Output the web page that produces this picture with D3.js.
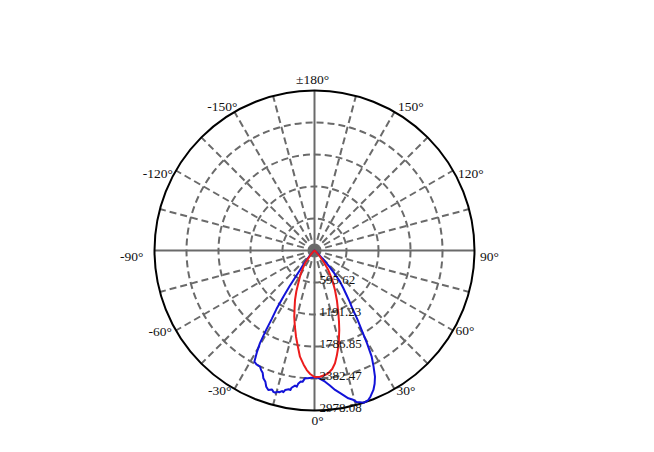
<!DOCTYPE html>
<html>
<head>
<meta charset="utf-8">
<script src="https://cdn.jsdelivr.net/npm/d3@7"></script>
<style>
  html, body { margin: 0; padding: 0; background: #fff; }
  svg { display: block; }
</style>
</head>
<body>
<svg id="chart" width="654" height="452"></svg>
<script>
// ---- data ----
const ringValues = [595.62, 1191.23, 1786.85, 2382.47, 2978.08];
const ringLabels = ["595.62", "1191.23", "1786.85", "2382.47", "2978.08"];
const angleTicks = [-150, -120, -90, -60, -30, 0, 30, 60, 90, 120, 150, 180];
const angleTickLabels = ["-150°", "-120°", "-90°", "-60°", "-30°", "0°", "30°", "60°", "90°", "120°", "150°", "±180°"];

const blueAngles = [-180, -90, -60, -48, -42, -39, -36.6, -35, -34, -33, -32, -31.3, -30.5, -29.5, -28.4, -27, -25.1, -24, -23, -21.8, -20.5, -19.5, -18.3, -17, -16.2, -15.5, -14.6, -14, -13, -12.4, -11.9, -10.5, -9.8, -9.5, -8.2, -7.4, -7, -6, -5.2, -4.3, -3, -1.5, 0, 1, 2.5, 4.6, 6.5, 8.4, 10.5, 12.9, 14.5, 15.6, 16.6, 18, 19.8, 21, 22.9, 24.3, 25.6, 27, 28.3, 29.5, 30.7, 32, 32.9, 34.5, 36, 37.5, 39.3, 41, 42.5, 43.6, 45, 47, 50, 60, 90, 180];
const blueValues = [0, 0, 0, 30, 150, 300, 452, 800, 1037, 1300, 1500, 1750, 2000, 2180, 2353, 2380, 2389, 2440, 2470, 2563, 2610, 2690, 2736, 2705, 2740, 2747, 2715, 2720, 2685, 2700, 2654, 2625, 2635, 2590, 2540, 2555, 2500, 2450, 2455, 2386, 2380, 2368, 2362, 2360, 2390, 2450, 2530, 2624, 2710, 2822, 2870, 2930, 2945, 2978.08, 2958, 2910, 2818, 2720, 2605, 2420, 2245, 1990, 1721, 1500, 1320, 1150, 1000, 880, 750, 560, 420, 329, 200, 90, 30, 0, 0, 0];

const redAngles = [-180, -90, -60, -48, -42, -38, -36.6, -32, -29, -26.3, -24, -21.5, -19, -17, -14.5, -12.1, -10, -7.8, -5.5, -3.7, -2, 0, 2.5, 4.5, 6.4, 8.5, 10.3, 12, 13.9, 15.5, 17.3, 19, 20.8, 24, 27.4, 31, 35.3, 38, 41.6, 45, 50, 60, 90, 180];
const redValues = [0, 0, 0, 20, 100, 220, 297, 450, 560, 681, 830, 990, 1140, 1288, 1460, 1641, 1800, 1995, 2130, 2230, 2300, 2354, 2351, 2330, 2300, 2230, 2134, 2000, 1845, 1700, 1550, 1400, 1251, 1030, 828, 640, 445, 300, 155, 60, 15, 0, 0, 0];

// ---- layout ----
const cx = 314.5, cy = 250.5, R = 160;
const svg = d3.select("#chart");
const g = svg.append("g").attr("transform", `translate(${cx},${cy})`);
const rScale = d3.scaleLinear().domain([0, d3.max(ringValues)]).range([0, R]);
const toRad = d => d * Math.PI / 180;
// 0° points down, positive angles to the right
const px = (deg, r) => r * Math.sin(toRad(deg));
const py = (deg, r) => r * Math.cos(toRad(deg));

const gridColor = "#6a6a6a";

// spokes every 15°
const spokes = d3.range(0, 360, 15);
g.selectAll("line.spoke").data(spokes).join("line")
  .attr("class", "spoke")
  .attr("x1", 0).attr("y1", 0)
  .attr("x2", d => px(d, R)).attr("y2", d => py(d, R))
  .attr("stroke", gridColor)
  .attr("stroke-width", 2)
  .attr("stroke-dasharray", d => d % 90 === 0 ? null : "7,4");

// rings
g.selectAll("circle.ring").data(ringValues.slice(0, -1)).join("circle")
  .attr("class", "ring")
  .attr("r", d => rScale(d))
  .attr("fill", "none")
  .attr("stroke", gridColor)
  .attr("stroke-width", 2)
  .attr("stroke-dasharray", "7,4");

g.append("circle").attr("r", 5).attr("fill", gridColor).attr("opacity", 0.6);

// outer circle
g.append("circle").attr("r", rScale(d3.max(ringValues)))
  .attr("fill", "none").attr("stroke", "#000").attr("stroke-width", 2);

// curves
const line = d3.lineRadial()
  .angle(d => Math.PI - toRad(d[0]))
  .radius(d => rScale(d[1]))
  .curve(d3.curveLinearClosed);

const blue = blueAngles.map((a, i) => [a, blueValues[i]]);
const red = redAngles.map((a, i) => [a, redValues[i]]);

g.append("path").attr("d", line(blue))
  .attr("fill", "none").attr("stroke", "#1212d8").attr("stroke-width", 2).attr("stroke-linejoin", "round");
g.append("path").attr("d", line(red))
  .attr("fill", "none").attr("stroke", "#ec1c1c").attr("stroke-width", 2).attr("stroke-linejoin", "round");

// ring labels
g.selectAll("text.ringlab").data(ringValues).join("text")
  .attr("class", "ringlab")
  .attr("x", 5)
  .attr("y", d => rScale(d) - 1)
  .attr("dominant-baseline", "middle")
  .attr("font-family", "'Liberation Serif', 'Times New Roman', serif")
  .attr("font-size", 13)
  .attr("fill", "#111")
  .text((d, i) => ringLabels[i]);

// angle label nudges (pixels) relative to the point on the outer circle
const nudge = {
  "-150": [3, -4.5], "-120": [-3, 4.5], "-90": [-11, 7], "-60": [-4, 2], "-30": [-3, 3],
  "0": [3, 11], "30": [2, 3], "60": [2.5, 1.5], "90": [5.5, 7], "120": [5, 4.5],
  "150": [3.5, -4.5], "180": [-2, -10]
};

g.selectAll("text.anglab").data(angleTicks).join("text")
  .attr("class", "anglab")
  .attr("x", d => px(d, R) + nudge[d][0])
  .attr("y", d => py(d, R) + nudge[d][1])
  .attr("text-anchor", d => {
    const s = Math.sin(toRad(d));
    if (Math.abs(s) < 0.1) return "middle";
    return s > 0 ? "start" : "end";
  })
  .attr("dominant-baseline", "middle")
  .attr("font-family", "'Liberation Serif', 'Times New Roman', serif")
  .attr("font-size", 13.5)
  .attr("fill", "#111")
  .text((d, i) => angleTickLabels[i]);
</script>
</body>
</html>
